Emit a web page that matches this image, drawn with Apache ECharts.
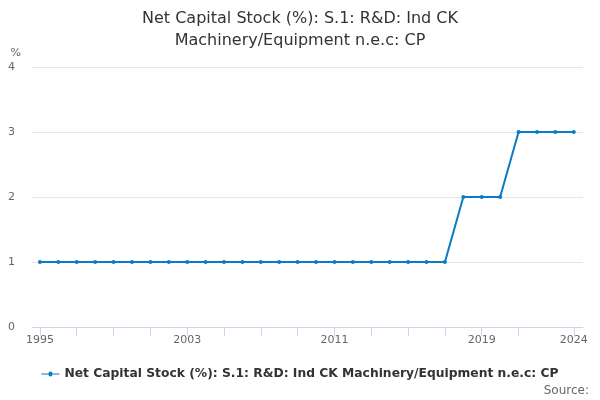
<!DOCTYPE html>
<html>
<head>
<meta charset="utf-8">
<script src="https://cdn.jsdelivr.net/npm/echarts@6/dist/echarts.min.js"></script>
<style>
    html, body { margin: 0; padding: 0; background: #fff; }
    #chart { width: 600px; height: 400px; }
</style>
</head>
<body>
<div id="chart"></div>
<script>
var years = [1995, 1996, 1997, 1998, 1999, 2000, 2001, 2002, 2003, 2004,
    2005, 2006, 2007, 2008, 2009, 2010, 2011, 2012, 2013, 2014,
    2015, 2016, 2017, 2018, 2019, 2020, 2021, 2022, 2023, 2024];
var values = [1, 1, 1, 1, 1, 1, 1, 1, 1, 1,
    1, 1, 1, 1, 1, 1, 1, 1, 1, 1,
    1, 1, 1, 2, 2, 2, 3, 3, 3, 3];
var tickYears = [1995, 1997, 1999, 2001, 2003, 2005, 2007, 2009, 2011, 2013,
    2015, 2017, 2019, 2021, 2024];
var labelYears = [1995, 2003, 2011, 2019, 2024];
var seriesName = 'Net Capital Stock (%): S.1: R&D: Ind CK Machinery/Equipment n.e.c: CP';

var font = 'DejaVu Sans';
var myChart = echarts.init(document.getElementById('chart'));

var option = {
    backgroundColor: '#ffffff',
    animation: false,
    textStyle: { fontFamily: font },
    title: {
        text: 'Net Capital Stock (%): S.1: R&D: Ind CK\nMachinery/Equipment n.e.c: CP',
        left: 'center',
        top: 3,
        textStyle: {
            fontFamily: font,
            fontSize: 16,
            fontWeight: 'normal',
            color: '#333333',
            lineHeight: 22
        }
    },
    graphic: [{
        type: 'text',
        right: 11,
        top: 385,
        style: {
            text: 'Source:',
            font: '12px "DejaVu Sans"',
            fill: '#666666'
        }
    }],
    legend: {
        bottom: 15,
        left: 'center',
        itemWidth: 18,
        itemHeight: 8,
        textStyle: {
            fontFamily: font,
            fontSize: 12.3,
            fontWeight: 'bold',
            color: '#333333'
        },
        data: [{ name: seriesName, icon: 'path://M0,4L7,4A2,2,0,0,1,11,4L18,4L18,5L11,5A2,2,0,0,1,7,5L0,5Z' }]
    },
    grid: {
        left: 32,
        right: 17,
        top: 67,
        bottom: 73
    },
    xAxis: {
        type: 'value',
        min: 1994.57,
        max: 2024.5,
        splitLine: { show: false },
        axisLine: { show: true, lineStyle: { color: '#ccd6eb', width: 1 } },
        axisTick: {
            show: true,
            length: 9,
            lineStyle: { color: '#ccd6eb' },
            customValues: tickYears
        },
        axisLabel: {
            color: '#666666',
            fontSize: 11,
            fontFamily: font,
            margin: 8,
            customValues: labelYears,
            formatter: function (v) { return String(v); }
        }
    },
    yAxis: {
        type: 'value',
        min: 0,
        max: 4,
        interval: 1,
        name: '%',
        nameLocation: 'end',
        nameGap: 8,
        nameTextStyle: {
            color: '#666666',
            fontSize: 11,
            fontFamily: font,
            align: 'right',
            padding: [0, 11, 0, 0]
        },
        axisLine: { show: false },
        axisTick: { show: false },
        splitLine: { lineStyle: { color: '#e6e6e6', width: 1 } },
        axisLabel: {
            color: '#666666',
            fontSize: 11,
            fontFamily: font,
            margin: 17
        }
    },
    series: [{
        name: seriesName,
        type: 'line',
        data: years.map(function (y, i) { return [y, values[i]]; }),
        symbol: 'circle',
        symbolSize: 4,
        showSymbol: true,
        itemStyle: { color: '#0a7bc4' },
        lineStyle: { color: '#0a7bc4', width: 2 }
    }]
};

myChart.setOption(option);
</script>
</body>
</html>
